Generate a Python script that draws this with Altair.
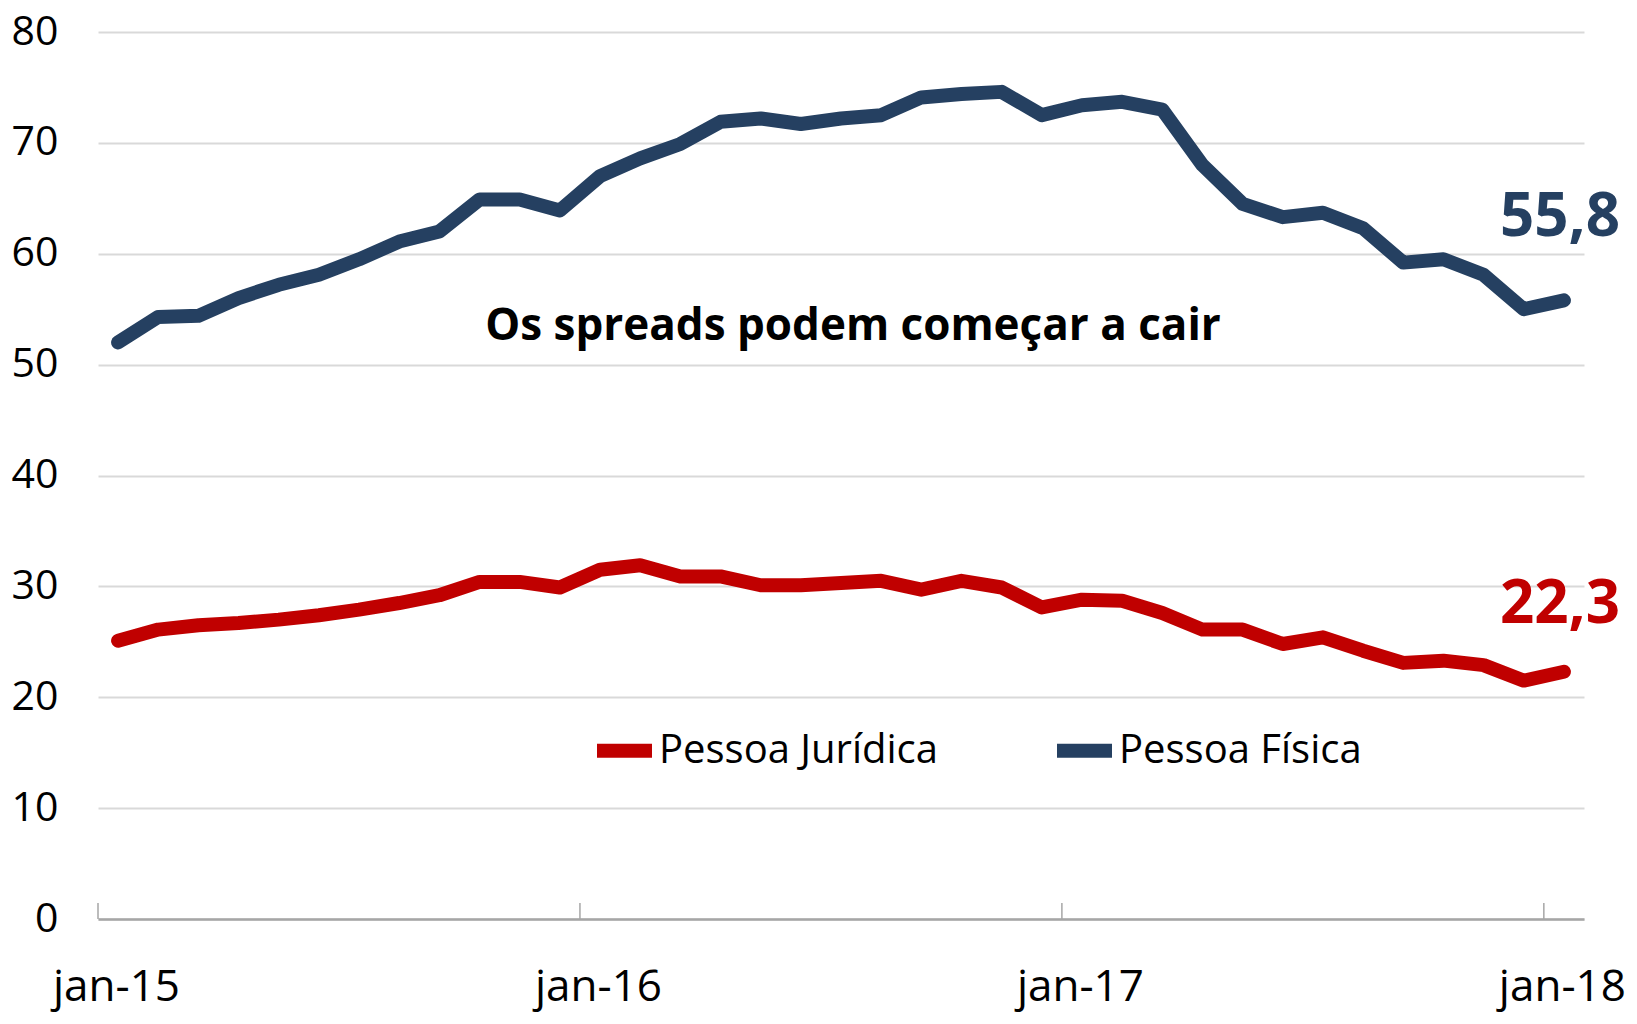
import json
import altair as alt
import pandas as pd

# ---- data ----
month_names = ["jan", "fev", "mar", "abr", "mai", "jun", "jul", "ago", "set", "out", "nov", "dez"]
months = [f"{m}-{y}" for y in ["15", "16", "17"] for m in month_names] + ["jan-18"]

pessoa_juridica = [25.1, 26.1, 26.5, 26.7, 27.0, 27.4, 27.9, 28.5, 29.2, 30.4, 30.4, 29.9,
                   31.5, 31.9, 30.9, 30.9, 30.1, 30.1, 30.3, 30.5, 29.7, 30.5, 29.9, 28.1,
                   28.8, 28.7, 27.6, 26.1, 26.1, 24.8, 25.4, 24.2, 23.1, 23.3, 22.9, 21.5, 22.3]
pessoa_fisica = [52.0, 54.3, 54.4, 56.0, 57.2, 58.1, 59.5, 61.1, 62.0, 64.9, 64.9, 63.9,
                 67.0, 68.6, 69.9, 71.9, 72.2, 71.7, 72.2, 72.5, 74.1, 74.4, 74.6, 72.5,
                 73.4, 73.7, 73.0, 68.0, 64.5, 63.3, 63.7, 62.3, 59.2, 59.5, 58.1, 55.0, 55.8]

series_names = ["Pessoa Jurídica", "Pessoa Física"]
series_colors = ["#c00000", "#254061"]
end_labels = ["22,3", "55,8"]

tick_labels = ["jan-15", "jan-16", "jan-17", "jan-18"]
tick_positions = [-0.5, 11.5, 23.5, 35.5]
y_ticks = [0, 10, 20, 30, 40, 50, 60, 70, 80]

annotation_text = "Os spreads podem começar a cair"
annotation_x = 18.3
annotation_y = 53.4

FONT = "Open Sans"

rows = []
for name, vals in zip(series_names, [pessoa_juridica, pessoa_fisica]):
    for i, (m, v) in enumerate(zip(months, vals)):
        rows.append({"idx": i, "mes": m, "valor": v, "serie": name})
df = pd.DataFrame(rows)

n = len(months)
x_scale = alt.Scale(domain=[-0.5, n - 0.5], nice=False, zero=False)
y_scale = alt.Scale(domain=[0, 80], nice=False)
color_scale = alt.Scale(domain=series_names, range=series_colors)

label_expr = f"{json.dumps(tick_labels)}[round((datum.value + 0.5) / 12)]"

x_axis = alt.Axis(values=tick_positions, labelExpr=label_expr, labelOffset=18,
                  labelFlush=False, labelOverlap=False, labelBound=False,
                  grid=False, ticks=False, tickSize=0, domain=True,
                  domainColor="#a6a6a6", domainWidth=2.5, labelPadding=46,
                  labelFontSize=44, labelFont=FONT, labelColor="#000000",
                  title=None, labelBaseline="top")
y_axis = alt.Axis(values=y_ticks, grid=True, gridColor="#d9d9d9", gridWidth=2,
                  domain=False, ticks=False, labelPadding=40, labelFontSize=41,
                  labelFont=FONT, labelColor="#000000", title=None)

lines = alt.Chart(df).mark_line(strokeWidth=14, strokeCap="round", strokeJoin="round").encode(
    x=alt.X("idx:Q", scale=x_scale, axis=x_axis),
    y=alt.Y("valor:Q", scale=y_scale, axis=y_axis),
    color=alt.Color("serie:N", scale=color_scale,
                    legend=alt.Legend(title=None, orient="none", legendX=492, legendY=684,
                                      direction="horizontal", symbolType="stroke",
                                      symbolSize=3025, symbolStrokeWidth=14,
                                      labelFontSize=40, labelFont=FONT, labelColor="#000000",
                                      labelOffset=0, columnPadding=90, labelLimit=600)),
)

tick_df = pd.DataFrame({"pos": tick_positions})
ticks = alt.Chart(tick_df).mark_rule(color="#a6a6a6", strokeWidth=1.5).encode(
    x=alt.X("pos:Q", scale=x_scale),
    y=alt.datum(0),
    y2=alt.datum(1.45),
)

last_df = pd.DataFrame({
    "idx": [n - 1, n - 1],
    "valor": [pessoa_juridica[-1], pessoa_fisica[-1]],
    "serie": series_names,
    "rotulo": end_labels,
})
end_pj = alt.Chart(last_df[last_df.serie == series_names[0]]).mark_text(
    fontSize=60, fontWeight="bold", font=FONT, align="center", baseline="middle",
    dx=-4, dy=-67, color=series_colors[0]).encode(
    x=alt.X("idx:Q", scale=x_scale), y=alt.Y("valor:Q", scale=y_scale), text="rotulo:N")
end_pf = alt.Chart(last_df[last_df.serie == series_names[1]]).mark_text(
    fontSize=60, fontWeight="bold", font=FONT, align="center", baseline="middle",
    dx=-4, dy=-82, color=series_colors[1]).encode(
    x=alt.X("idx:Q", scale=x_scale), y=alt.Y("valor:Q", scale=y_scale), text="rotulo:N")

ann_df = pd.DataFrame({"x": [annotation_x], "y": [annotation_y], "t": [annotation_text]})
annotation = alt.Chart(ann_df).mark_text(
    fontSize=44, fontWeight="bold", font=FONT, align="center", baseline="middle",
    color="#000000").encode(
    x=alt.X("x:Q", scale=x_scale), y=alt.Y("y:Q", scale=y_scale), text="t:N")

chart = alt.layer(ticks, lines, end_pj, end_pf, annotation).properties(
    width=1486, height=887,
    autosize=alt.AutoSizeParams(type="none"),
    padding={"left": 90, "top": 24, "right": 44, "bottom": 97},
    background="#ffffff",
).configure_view(stroke=None)

chart.save("out.html", embed_options={"renderer": "svg", "actions": False})
